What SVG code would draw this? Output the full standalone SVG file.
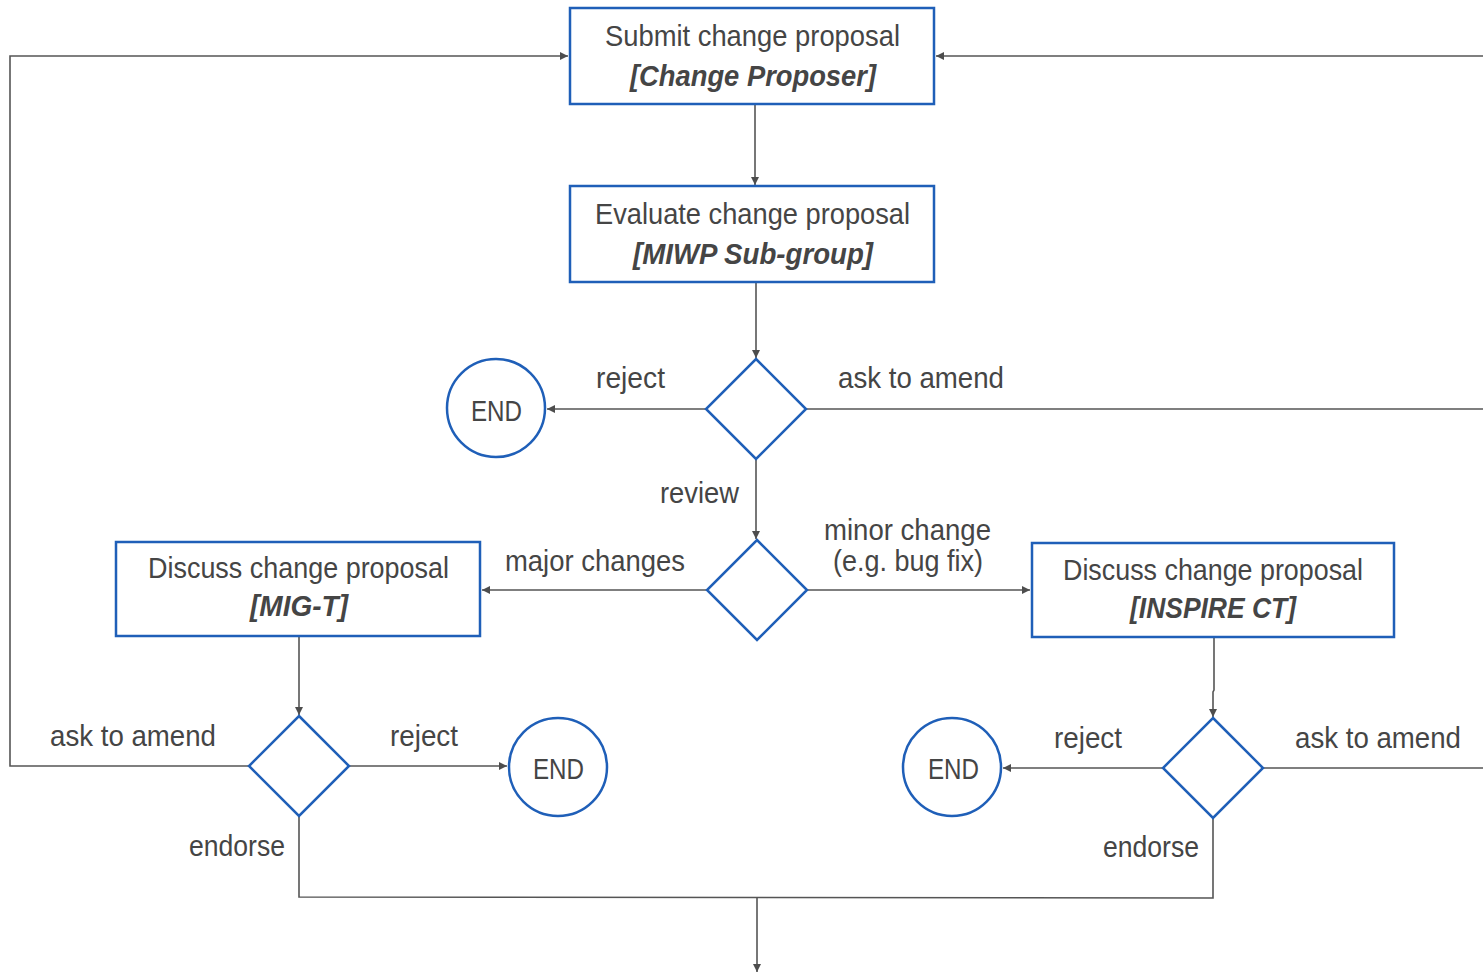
<svg xmlns="http://www.w3.org/2000/svg" width="1483" height="974" viewBox="0 0 1483 974">
<defs>
<marker id="ah" markerUnits="userSpaceOnUse" markerWidth="10" markerHeight="10" refX="8" refY="4" orient="auto">
<path d="M0,0 L8,4 L0,8 z" fill="#4d4d4d"/>
</marker>
<style>
.box{fill:#fff;stroke:#1f5fb8;stroke-width:2.5}
.shape{fill:#fff;stroke:#1f5fb8;stroke-width:2.5}
.c{fill:none;stroke:#555;stroke-width:1.6}
.a{fill:none;stroke:#555;stroke-width:1.6;marker-end:url(#ah)}
text{font-family:"Liberation Sans","DejaVu Sans",sans-serif;font-size:29px;fill:#454545}
.t{text-anchor:middle}
.b{font-weight:bold;font-style:italic}
</style>
</defs>
<rect width="1483" height="974" fill="#fff"/>
<g id="connectors">
<path class="a" d="M755,104 L755,185"/>
<path class="a" d="M756,282 L756,358"/>
<path class="a" d="M706,409 L547,409"/>
<path class="c" d="M806,409 L1483,409"/>
<path class="a" d="M1483,56 L936,56"/>
<path class="a" d="M756,459 L756,539"/>
<path class="a" d="M707,590 L482,590"/>
<path class="a" d="M807,590 L1030,590"/>
<path class="a" d="M299,636 L299,715"/>
<path class="a" d="M1214,637 L1214,690 L1213,692 L1213,717"/>
<path class="a" d="M249,766 L10,766 L10,56 L568,56"/>
<path class="a" d="M349,766 L507,766"/>
<path class="a" d="M1163,768 L1003,768"/>
<path class="c" d="M1263,768 L1483,768"/>
<path class="c" d="M299,816 L299,897 L1213,898 L1213,818"/>
<path class="a" d="M757,897 L757,972"/>
</g>
<g id="submit">
<rect class="box" x="570" y="8" width="364" height="96"/>
<text class="t" x="752.5" y="46" textLength="295" lengthAdjust="spacingAndGlyphs">Submit change proposal</text>
<text class="t b" x="753" y="86" textLength="246" lengthAdjust="spacingAndGlyphs">[Change Proposer]</text>
</g>
<g id="evaluate">
<rect class="box" x="570" y="186" width="364" height="96"/>
<text class="t" x="752.5" y="224" textLength="315" lengthAdjust="spacingAndGlyphs">Evaluate change proposal</text>
<text class="t b" x="753" y="264" textLength="240" lengthAdjust="spacingAndGlyphs">[MIWP Sub-group]</text>
</g>
<g id="decision1">
<path class="shape" d="M756,359 L806,409 L756,459 L706,409 Z"/>
</g>
<g id="end1">
<circle class="shape" cx="496" cy="408" r="49"/>
<text class="t" x="496.5" y="421" textLength="51" lengthAdjust="spacingAndGlyphs">END</text>
</g>
<g id="decision2">
<path class="shape" d="M757,540 L807,590 L757,640 L707,590 Z"/>
</g>
<g id="migt">
<rect class="box" x="116" y="542" width="364" height="94"/>
<text class="t" x="298.5" y="578" textLength="301" lengthAdjust="spacingAndGlyphs">Discuss change proposal</text>
<text class="t b" x="299" y="616" textLength="98" lengthAdjust="spacingAndGlyphs">[MIG-T]</text>
</g>
<g id="inspire">
<rect class="box" x="1032" y="543" width="362" height="94"/>
<text class="t" x="1213" y="580" textLength="300" lengthAdjust="spacingAndGlyphs">Discuss change proposal</text>
<text class="t b" x="1213" y="618" textLength="166" lengthAdjust="spacingAndGlyphs">[INSPIRE CT]</text>
</g>
<g id="decision3">
<path class="shape" d="M299,716 L349,766 L299,816 L249,766 Z"/>
</g>
<g id="end2">
<circle class="shape" cx="558" cy="767" r="49"/>
<text class="t" x="558.5" y="779" textLength="51" lengthAdjust="spacingAndGlyphs">END</text>
</g>
<g id="end3">
<circle class="shape" cx="952" cy="767" r="49"/>
<text class="t" x="953.5" y="779" textLength="51" lengthAdjust="spacingAndGlyphs">END</text>
</g>
<g id="decision4">
<path class="shape" d="M1213,718 L1263,768 L1213,818 L1163,768 Z"/>
</g>
<g id="labels">
<text x="596" y="388" textLength="69" lengthAdjust="spacingAndGlyphs">reject</text>
<text x="838" y="388" textLength="166" lengthAdjust="spacingAndGlyphs">ask to amend</text>
<text x="660" y="503" textLength="79" lengthAdjust="spacingAndGlyphs">review</text>
<text x="824" y="540" textLength="167" lengthAdjust="spacingAndGlyphs">minor change</text>
<text x="833" y="571" textLength="150" lengthAdjust="spacingAndGlyphs">(e.g. bug fix)</text>
<text x="505" y="571" textLength="180" lengthAdjust="spacingAndGlyphs">major changes</text>
<text x="50" y="746" textLength="166" lengthAdjust="spacingAndGlyphs">ask to amend</text>
<text x="390" y="746" textLength="68" lengthAdjust="spacingAndGlyphs">reject</text>
<text x="189" y="856" textLength="96" lengthAdjust="spacingAndGlyphs">endorse</text>
<text x="1054" y="748" textLength="68" lengthAdjust="spacingAndGlyphs">reject</text>
<text x="1295" y="748" textLength="166" lengthAdjust="spacingAndGlyphs">ask to amend</text>
<text x="1103" y="857" textLength="96" lengthAdjust="spacingAndGlyphs">endorse</text>
</g>
</svg>
